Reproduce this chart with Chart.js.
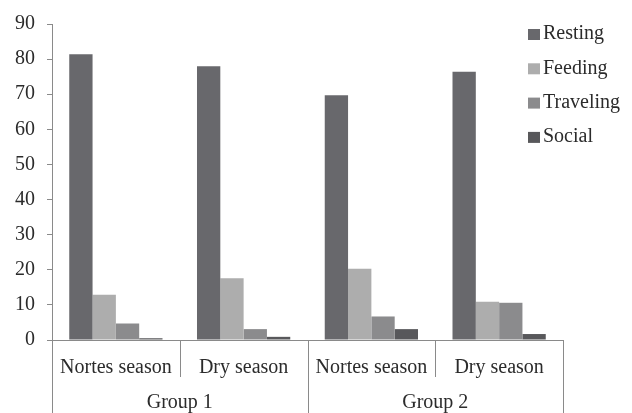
<!DOCTYPE html>
<html>
<head>
<meta charset="utf-8">
<script src="https://cdn.jsdelivr.net/npm/chart.js@4.4.0/dist/chart.umd.min.js"></script>
<style>
  html, body { margin: 0; padding: 0; background: #fff; }
  #wrap { width: 632px; height: 413px; }
</style>
</head>
<body>
<div id="wrap"><canvas id="chart"></canvas></div>
<script>
const seasons = ['Nortes season', 'Dry season', 'Nortes season', 'Dry season'];
const groups = ['Group 1', 'Group 2'];
const seasonsPerGroup = 2;

const resting = [81.4, 78.0, 69.7, 76.4];
const feeding = [12.9, 17.6, 20.3, 10.9];
const traveling = [4.7, 3.1, 6.7, 10.6];
const social = [0.5, 0.9, 3.1, 1.7];

const yTicks = [0, 10, 20, 30, 40, 50, 60, 70, 80, 90];

const serif = "'Liberation Serif', 'Times New Roman', Times, serif";
const axisColor = '#8a8a8a';
const textColor = '#2b2b2b';

// group row, separators and the legend
const extrasPlugin = {
  id: 'extras',
  afterDraw(chart) {
    const ctx = chart.ctx;
    const x = chart.scales.x;
    const area = chart.chartArea;
    const step = x.getPixelForTick(1) - x.getPixelForTick(0);
    const bottom = chart.height;

    ctx.save();
    ctx.strokeStyle = axisColor;
    ctx.lineWidth = 1;
    for (let i = 0; i <= seasons.length; i++) {
      const px = Math.round(x.getPixelForTick(0) - step / 2 + i * step) + 0.5;
      const long = i % seasonsPerGroup === 0;
      ctx.beginPath();
      ctx.moveTo(px, area.bottom);
      ctx.lineTo(px, long ? bottom : area.bottom + 37);
      ctx.stroke();
    }

    ctx.fillStyle = textColor;
    ctx.font = '20px ' + serif;
    ctx.textAlign = 'center';
    ctx.textBaseline = 'middle';
    groups.forEach((g, gi) => {
      const a = x.getPixelForTick(gi * seasonsPerGroup);
      const b = x.getPixelForTick(gi * seasonsPerGroup + seasonsPerGroup - 1);
      ctx.fillText(g, (a + b) / 2, 403);
    });

    // legend
    ctx.textAlign = 'left';
    chart.data.datasets.forEach((ds, i) => {
      const y = 34 + i * 34.3;
      ctx.fillStyle = ds.backgroundColor;
      ctx.fillRect(528, y - 5, 12, 11);
      ctx.fillStyle = textColor;
      ctx.fillText(ds.label, 543, y);
    });
    ctx.restore();
  }
};

new Chart(document.getElementById('chart'), {
  type: 'bar',
  data: {
    labels: seasons,
    datasets: [
      { label: 'Resting', data: resting, backgroundColor: '#68686c' },
      { label: 'Feeding', data: feeding, backgroundColor: '#adadad' },
      { label: 'Traveling', data: traveling, backgroundColor: '#8b8b8d' },
      { label: 'Social', data: social, backgroundColor: '#58585b' }
    ]
  },
  options: {
    responsive: true,
    maintainAspectRatio: false,
    animation: false,
    layout: { padding: { top: 20, right: 69, left: 0, bottom: 0 } },
    datasets: { bar: { categoryPercentage: 0.73, barPercentage: 1.0 } },
    plugins: {
      legend: { display: false },
      tooltip: { enabled: false }
    },
    scales: {
      x: {
        grid: { display: false },
        border: { display: true, color: axisColor, width: 1 },
        ticks: {
          color: textColor,
          font: { family: serif, size: 20 },
          padding: 8,
          maxRotation: 0,
          autoSkip: false
        },
        afterFit(scale) { scale.height = 73; }
      },
      y: {
        min: 0,
        max: 90,
        afterBuildTicks(scale) { scale.ticks = yTicks.map(v => ({ value: v })); },
        grid: { display: true, drawOnChartArea: false, tickLength: 5, color: axisColor },
        border: { display: true, color: axisColor, width: 1 },
        ticks: {
          color: textColor,
          font: { family: serif, size: 20 },
          padding: 12
        },
        afterFit(scale) { scale.width = 52; }
      }
    }
  },
  plugins: [extrasPlugin]
});
</script>
</body>
</html>
